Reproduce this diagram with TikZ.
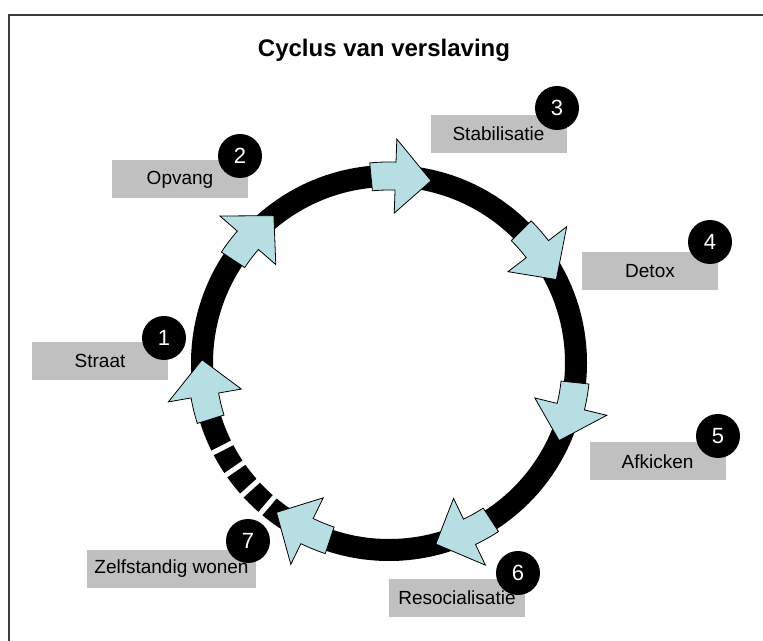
\documentclass[tikz,border=0pt]{standalone}
\usepackage{fontspec}
\setmainfont{Liberation Sans}
\definecolor{arrowblue}{RGB}{183,222,227}
\definecolor{boxgray}{RGB}{192,192,192}
\definecolor{framegray}{RGB}{60,60,60}

\tikzset{
  ring/.style={line width=22pt, black},
  gapline/.style={line width=5pt, white},
  cycarrow/.style={fill=arrowblue, draw=black, line width=0.8pt, line join=miter},
  stage/.style={fill=boxgray, minimum width=136pt, minimum height=38pt,
    inner xsep=7pt, font=\fontsize{19}{21}\selectfont},
  stagenr/.style={circle, fill=black, text=white, minimum size=44pt, inner sep=0pt,
    font=\fontsize{22}{24}\selectfont},
  frameline/.style={framegray, line width=1.5pt}
}

\newcommand{\ringarrow}[1]{%
  \pgfmathsetmacro{\tl}{#1+18.5}%
  \pgfmathsetmacro{\nk}{#1+11}%
  \filldraw[cycarrow] (\tl:201pt) arc[start angle=\tl, end angle=\nk, radius=201pt]
    -- (\nk:224pt) -- (#1:187pt) -- (\nk:150pt) -- (\nk:173pt)
    arc[start angle=\nk, end angle=\tl, radius=173pt] -- cycle;}

\begin{document}
\begin{tikzpicture}[x=1pt, y=1pt]
\useasboundingbox (0,0) rectangle (763,640);

\draw[frameline] (9,-5) -- (9,625) -- (770,625);

\node[font=\bfseries\fontsize{24}{27}\selectfont] (title) at (384,590) {Cyclus van verslaving};

\coordinate (ctr) at (389,277);
\draw[ring] (ctr) circle[radius=187pt];

\begin{scope}[shift={(ctr)}]
\foreach \a in {207,214.5,222,229.5}
  \draw[gapline] (\a:170pt) -- (\a:204pt);
\foreach \t in {179,128,77,26.5,-24.5,-75.5,-127}
  {\ringarrow{\t}}
\end{scope}

\node[stage] (straat) at (100,279) {Straat};
\node[stage] (opvang) at (180,460.5) {Opvang};
\node[stage] (stabilisatie) at (498.5,506) {Stabilisatie};
\node[stage] (detox) at (650,369) {Detox};
\node[stage] (afkicken) at (657.5,178.5) {Afkicken};
\node[stage] (resocialisatie) at (457,42) {Resocialisatie};
\node[stage] (zelfstandig) at (171.5,71) {Zelfstandig wonen};

\node[stagenr] (n1) at (164,302) {1};
\node[stagenr] (n2) at (240,484) {2};
\node[stagenr] (n3) at (557,532) {3};
\node[stagenr] (n4) at (710,398) {4};
\node[stagenr] (n5) at (718,204) {5};
\node[stagenr] (n6) at (518,67) {6};
\node[stagenr] (n7) at (248,99) {7};
\end{tikzpicture}
\end{document}
